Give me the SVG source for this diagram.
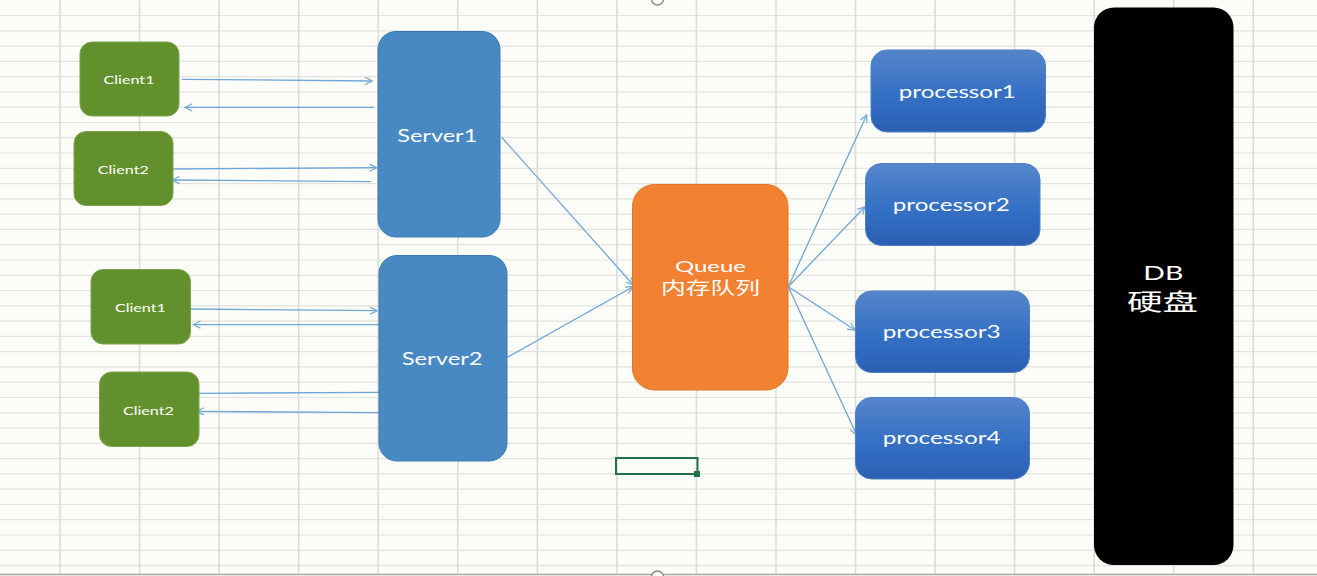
<svg xmlns="http://www.w3.org/2000/svg" width="1317" height="576" viewBox="0 0 1317 576">
<defs>
<linearGradient id="procGrad" x1="0" y1="0" x2="0" y2="1">
<stop offset="0" stop-color="#5685CB"/>
<stop offset="0.55" stop-color="#3470C4"/>
<stop offset="1" stop-color="#2A60B4"/>
</linearGradient>
<marker id="arr" viewBox="0 0 10 10" refX="9" refY="5" markerWidth="9" markerHeight="9" markerUnits="userSpaceOnUse" orient="auto">
<path d="M1,1 L9,5 L1,9" fill="none" stroke="#6FA6D8" stroke-width="1.3"/>
</marker>
<style>
.gv{stroke:#DCDCD8;stroke-width:1.6}
.gh{stroke:#E2E2DE;stroke-width:1.2}
.client{fill:#62902C;stroke:#7DA64A;stroke-width:1}
.server{fill:#4889C3;stroke:#3C78B0;stroke-width:1}
.proc{fill:url(#procGrad);stroke:#4F80C6;stroke-width:1}
.queue{fill:#F28231;stroke:#E27426;stroke-width:1}
.db{fill:#000000}
.conn{stroke:#6FA6D8;stroke-width:1.3;fill:none}
text{fill:#FFFFFF;font-family:Lato,"Open Sans","Noto Sans CJK SC",sans-serif;text-anchor:middle;dominant-baseline:central}
.tc{font-size:12px}
.ts{font-size:17px}
.tp{font-size:17px}
.cjk{font-family:"Noto Sans CJK SC",sans-serif}
</style>
</defs>
<rect x="0" y="0" width="1317" height="576" fill="#FCFDF8"/>
<g id="grid">
<line class="gh" x1="0" y1="15.5" x2="1317" y2="15.5"/>
<line class="gh" x1="0" y1="30.8" x2="1317" y2="30.8"/>
<line class="gh" x1="0" y1="46.1" x2="1317" y2="46.1"/>
<line class="gh" x1="0" y1="61.3" x2="1317" y2="61.3"/>
<line class="gh" x1="0" y1="76.6" x2="1317" y2="76.6"/>
<line class="gh" x1="0" y1="91.9" x2="1317" y2="91.9"/>
<line class="gh" x1="0" y1="107.2" x2="1317" y2="107.2"/>
<line class="gh" x1="0" y1="122.5" x2="1317" y2="122.5"/>
<line class="gh" x1="0" y1="137.7" x2="1317" y2="137.7"/>
<line class="gh" x1="0" y1="153.0" x2="1317" y2="153.0"/>
<line class="gh" x1="0" y1="168.3" x2="1317" y2="168.3"/>
<line class="gh" x1="0" y1="183.6" x2="1317" y2="183.6"/>
<line class="gh" x1="0" y1="198.9" x2="1317" y2="198.9"/>
<line class="gh" x1="0" y1="214.1" x2="1317" y2="214.1"/>
<line class="gh" x1="0" y1="229.4" x2="1317" y2="229.4"/>
<line class="gh" x1="0" y1="244.7" x2="1317" y2="244.7"/>
<line class="gh" x1="0" y1="260.0" x2="1317" y2="260.0"/>
<line class="gh" x1="0" y1="275.3" x2="1317" y2="275.3"/>
<line class="gh" x1="0" y1="290.5" x2="1317" y2="290.5"/>
<line class="gh" x1="0" y1="305.8" x2="1317" y2="305.8"/>
<line class="gh" x1="0" y1="321.1" x2="1317" y2="321.1"/>
<line class="gh" x1="0" y1="336.4" x2="1317" y2="336.4"/>
<line class="gh" x1="0" y1="351.7" x2="1317" y2="351.7"/>
<line class="gh" x1="0" y1="366.9" x2="1317" y2="366.9"/>
<line class="gh" x1="0" y1="382.2" x2="1317" y2="382.2"/>
<line class="gh" x1="0" y1="397.5" x2="1317" y2="397.5"/>
<line class="gh" x1="0" y1="412.8" x2="1317" y2="412.8"/>
<line class="gh" x1="0" y1="428.1" x2="1317" y2="428.1"/>
<line class="gh" x1="0" y1="443.3" x2="1317" y2="443.3"/>
<line class="gh" x1="0" y1="458.6" x2="1317" y2="458.6"/>
<line class="gh" x1="0" y1="473.9" x2="1317" y2="473.9"/>
<line class="gh" x1="0" y1="489.2" x2="1317" y2="489.2"/>
<line class="gh" x1="0" y1="504.5" x2="1317" y2="504.5"/>
<line class="gh" x1="0" y1="519.7" x2="1317" y2="519.7"/>
<line class="gh" x1="0" y1="535.0" x2="1317" y2="535.0"/>
<line class="gh" x1="0" y1="550.3" x2="1317" y2="550.3"/>
<line class="gh" x1="0" y1="565.6" x2="1317" y2="565.6"/>
<line class="gv" x1="60" y1="0" x2="60" y2="574"/>
<line class="gv" x1="139.6" y1="0" x2="139.6" y2="574"/>
<line class="gv" x1="219.1" y1="0" x2="219.1" y2="574"/>
<line class="gv" x1="298.7" y1="0" x2="298.7" y2="574"/>
<line class="gv" x1="378.2" y1="0" x2="378.2" y2="574"/>
<line class="gv" x1="457.8" y1="0" x2="457.8" y2="574"/>
<line class="gv" x1="537.3" y1="0" x2="537.3" y2="574"/>
<line class="gv" x1="616.9" y1="0" x2="616.9" y2="574"/>
<line class="gv" x1="696.4" y1="0" x2="696.4" y2="574"/>
<line class="gv" x1="776" y1="0" x2="776" y2="574"/>
<line class="gv" x1="855.5" y1="0" x2="855.5" y2="574"/>
<line class="gv" x1="935.1" y1="0" x2="935.1" y2="574"/>
<line class="gv" x1="1014.6" y1="0" x2="1014.6" y2="574"/>
<line class="gv" x1="1094.2" y1="0" x2="1094.2" y2="574"/>
<line class="gv" x1="1173.7" y1="0" x2="1173.7" y2="574"/>
<line class="gv" x1="1253.3" y1="0" x2="1253.3" y2="574"/>
<line x1="0" y1="574.5" x2="1317" y2="574.5" stroke="#A8A8A4" stroke-width="1.5"/>
<rect x="616" y="458" width="81.5" height="16" fill="none" stroke="#1F7244" stroke-width="2"/>
<rect x="694" y="471" width="6" height="6" fill="#1F7244"/>
</g>
<g id="connectors">
<line class="conn" x1="181.7" y1="79.3" x2="372.3" y2="81" marker-end="url(#arr)"/>
<line class="conn" x1="374" y1="107.3" x2="185" y2="107.3" marker-end="url(#arr)"/>
<line class="conn" x1="173.3" y1="169" x2="376.7" y2="167.7" marker-end="url(#arr)"/>
<line class="conn" x1="371" y1="181.7" x2="172.3" y2="180" marker-end="url(#arr)"/>
<line class="conn" x1="190.7" y1="309" x2="377.3" y2="310.7" marker-end="url(#arr)"/>
<line class="conn" x1="379" y1="324.7" x2="193.3" y2="324.7" marker-end="url(#arr)"/>
<line class="conn" x1="199" y1="393.3" x2="379" y2="392.3"/>
<line class="conn" x1="379" y1="412.7" x2="196.7" y2="411.3" marker-end="url(#arr)"/>
<line class="conn" x1="501.7" y1="137.3" x2="633.3" y2="285" marker-end="url(#arr)"/>
<line class="conn" x1="507.3" y1="357.3" x2="633" y2="286.7" marker-end="url(#arr)"/>
<line class="conn" x1="788.3" y1="286.7" x2="866.7" y2="115" marker-end="url(#arr)"/>
<line class="conn" x1="788.3" y1="286.7" x2="865" y2="206.7" marker-end="url(#arr)"/>
<line class="conn" x1="788.3" y1="286.7" x2="855" y2="330" marker-end="url(#arr)"/>
<line class="conn" x1="788.3" y1="286.7" x2="856.7" y2="435" marker-end="url(#arr)"/>
</g>
<g id="client1a">
<rect class="client" x="80" y="42" width="99" height="74" rx="12"/>
<text class="tc" x="129" y="79" textLength="51" lengthAdjust="spacingAndGlyphs">Client1</text>
</g>
<g id="client2a">
<rect class="client" x="74" y="131.5" width="99" height="74" rx="12"/>
<text class="tc" x="123.3" y="169" textLength="51" lengthAdjust="spacingAndGlyphs">Client2</text>
</g>
<g id="client1b">
<rect class="client" x="91" y="269.5" width="99.5" height="74.5" rx="12"/>
<text class="tc" x="140.4" y="307.3" textLength="51" lengthAdjust="spacingAndGlyphs">Client1</text>
</g>
<g id="client2b">
<rect class="client" x="99.5" y="372" width="99.5" height="74.5" rx="12"/>
<text class="tc" x="148.4" y="410" textLength="51" lengthAdjust="spacingAndGlyphs">Client2</text>
</g>
<g id="server1">
<rect class="server" x="378" y="31.5" width="122" height="205.5" rx="18"/>
<text class="ts" x="437.3" y="135.5" textLength="80" lengthAdjust="spacingAndGlyphs">Server1</text>
</g>
<g id="server2">
<rect class="server" x="379" y="255.5" width="128" height="205.5" rx="18"/>
<text class="ts" x="442.2" y="358.3" textLength="81" lengthAdjust="spacingAndGlyphs">Server2</text>
</g>
<g id="queue">
<rect class="queue" x="632.5" y="184.5" width="155.5" height="205.5" rx="22"/>
<text x="710.5" y="265.5" font-size="15" textLength="71" lengthAdjust="spacingAndGlyphs">Queue</text>
<text class="cjk" x="710.5" y="286.5" font-size="17" textLength="99" lengthAdjust="spacingAndGlyphs">内存队列</text>
</g>
<g id="processor1">
<rect class="proc" x="871" y="50" width="174.5" height="82" rx="16"/>
<text class="tp" x="957.3" y="91" textLength="117" lengthAdjust="spacingAndGlyphs">processor1</text>
</g>
<g id="processor2">
<rect class="proc" x="865.5" y="163.5" width="174.5" height="82" rx="16"/>
<text class="tp" x="951.3" y="204.5" textLength="117" lengthAdjust="spacingAndGlyphs">processor2</text>
</g>
<g id="processor3">
<rect class="proc" x="855.5" y="291" width="174" height="81.5" rx="16"/>
<text class="tp" x="941.7" y="331" textLength="118" lengthAdjust="spacingAndGlyphs">processor3</text>
</g>
<g id="processor4">
<rect class="proc" x="855.5" y="397.5" width="174" height="81.5" rx="16"/>
<text class="tp" x="941.7" y="437.5" textLength="118" lengthAdjust="spacingAndGlyphs">processor4</text>
</g>
<g id="db">
<rect class="db" x="1094" y="7.5" width="139.5" height="557.5" rx="20"/>
<text x="1163.3" y="271.5" font-size="20" textLength="40" lengthAdjust="spacingAndGlyphs">DB</text>
<text class="cjk" x="1162.5" y="299.5" font-size="23" textLength="71" lengthAdjust="spacingAndGlyphs">硬盘</text>
</g>
<circle cx="657.5" cy="-1" r="6" fill="#FFFFFF" stroke="#8A8A8A" stroke-width="1.5"/>
<circle cx="657.5" cy="577" r="6" fill="#FFFFFF" stroke="#8A8A8A" stroke-width="1.5"/>
</svg>
